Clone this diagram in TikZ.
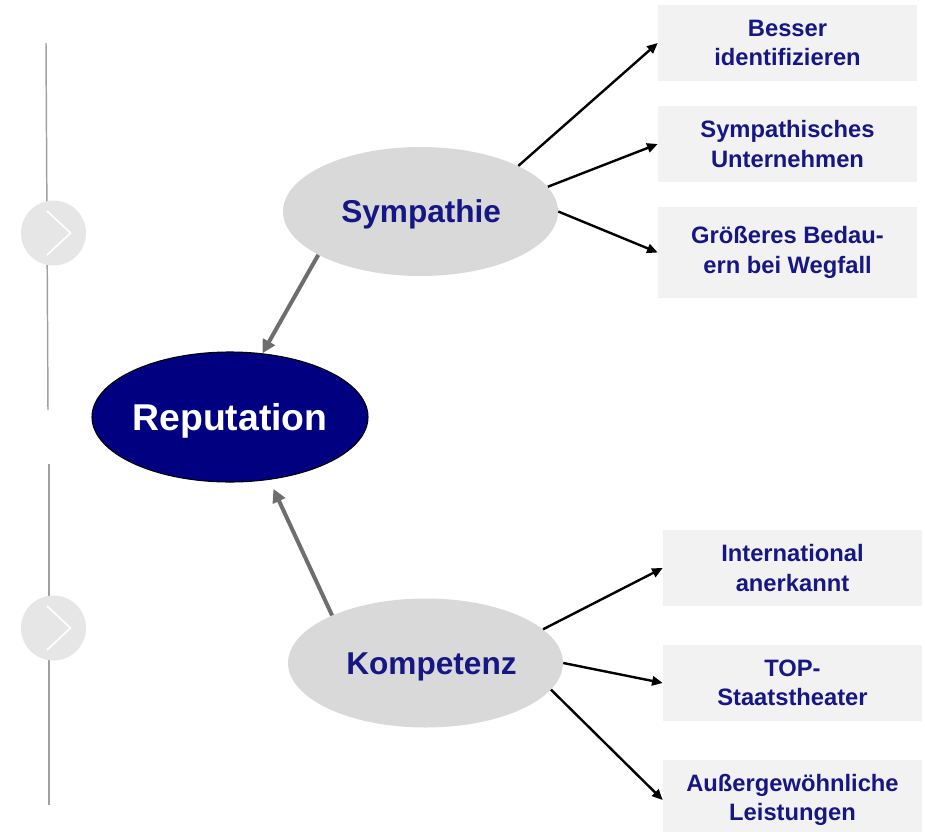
\documentclass[tikz,border=0pt]{standalone}
\usepackage{fontspec}
\setmainfont{Liberation Sans}
\usetikzlibrary{arrows.meta,shapes.geometric}
\definecolor{tblue}{RGB}{22,22,132}
\definecolor{navyfill}{RGB}{0,0,128}
\definecolor{ellgray}{RGB}{217,217,217}
\definecolor{boxgray}{RGB}{242,242,242}
\definecolor{circgray}{RGB}{230,230,230}
\definecolor{linegray}{RGB}{160,160,160}
\definecolor{arrgray}{RGB}{110,110,112}
\begin{document}
\begin{tikzpicture}[x=0.75pt,y=-0.75pt,
  oval/.style={ellipse, minimum width=206.25pt, minimum height=96.75pt, inner sep=0pt,
    fill=ellgray, text=tblue, font=\bfseries\fontsize{23.7}{26}\selectfont,
    text height=17pt, text depth=0pt},
  repoval/.style={ellipse, minimum width=207pt, minimum height=97.5pt, inner sep=0pt,
    fill=navyfill, draw=black, line width=0.8pt, text=white,
    font=\bfseries\fontsize{28}{32}\selectfont, text height=20pt, text depth=0pt},
  infobox/.style={rectangle, fill=boxgray, minimum width=194.25pt, inner sep=0pt,
    align=center, text=tblue, font=\bfseries\fontsize{17.8}{22}\selectfont},
  blkarrow/.style={draw=black, line width=1.8pt, -{Triangle[length=8pt,width=7pt]}},
  grayarrow/.style={draw=arrgray, line width=3pt, -{Triangle[length=10pt,width=10pt]}},
  sideline/.style={draw=linegray, line width=1.1pt},
  sidecircle/.style={fill=circgray},
  chevron/.style={draw=white, line width=1.2pt}
]
\useasboundingbox (0,0) rectangle (925,832);

% left side decoration
\draw[sideline] (46,43) -- (48,410);
\draw[sideline] (49,464) -- (49,805);
\fill[sidecircle] (53.5,233) circle[radius=32.5];
\fill[sidecircle] (53.5,628) circle[radius=32.5];
\draw[chevron] (47,211) -- (70.5,233) -- (47,255);
\draw[chevron] (47,606) -- (70.5,628) -- (47,650);

% main nodes
\node[repoval] (rep) at (230,417) {Reputation};
\node[oval] (sym) at (420.5,211.5) {\hspace*{1pt}Sympathie};
\node[oval] (komp) at (425.5,663) {\hspace*{9pt}Kompetenz};

% boxes
\node[infobox, minimum height=57pt] (b1) at (787.5,43) {Besser\\identifizieren};
\node[infobox, minimum height=57pt] (b2) at (787.5,144) {Sympathisches\\Unternehmen};
\node[infobox, minimum height=68.25pt] (b3) at (787.5,252.5) {Größeres Bedau-\\ern bei Wegfall};
\node[infobox, minimum height=57pt] (b4) at (792.5,568) {International\\anerkannt};
\node[infobox, minimum height=57pt] (b5) at (792.5,683) {TOP-\\Staatstheater};
\node[infobox, minimum height=60pt] (b6) at (792.5,800) {Außergewöhnliche\\Leistungen};

% connectors
\draw[blkarrow] (sym.25.5) -- (b1.west);
\draw[blkarrow] (sym.11.7) -- (b2.west);
\draw[blkarrow] (sym.0) -- (b3.west);
\draw[blkarrow] (komp.16.3) -- (b4.west);
\draw[blkarrow] (komp.0) -- (b5.west);
\draw[blkarrow] (komp.-12.4) -- (b6.west);

\draw[grayarrow] (sym.203.6) -- (rep.63);
\draw[grayarrow, shorten >=7.5pt] (komp.153) -- (rep.-58);
\end{tikzpicture}
\end{document}
